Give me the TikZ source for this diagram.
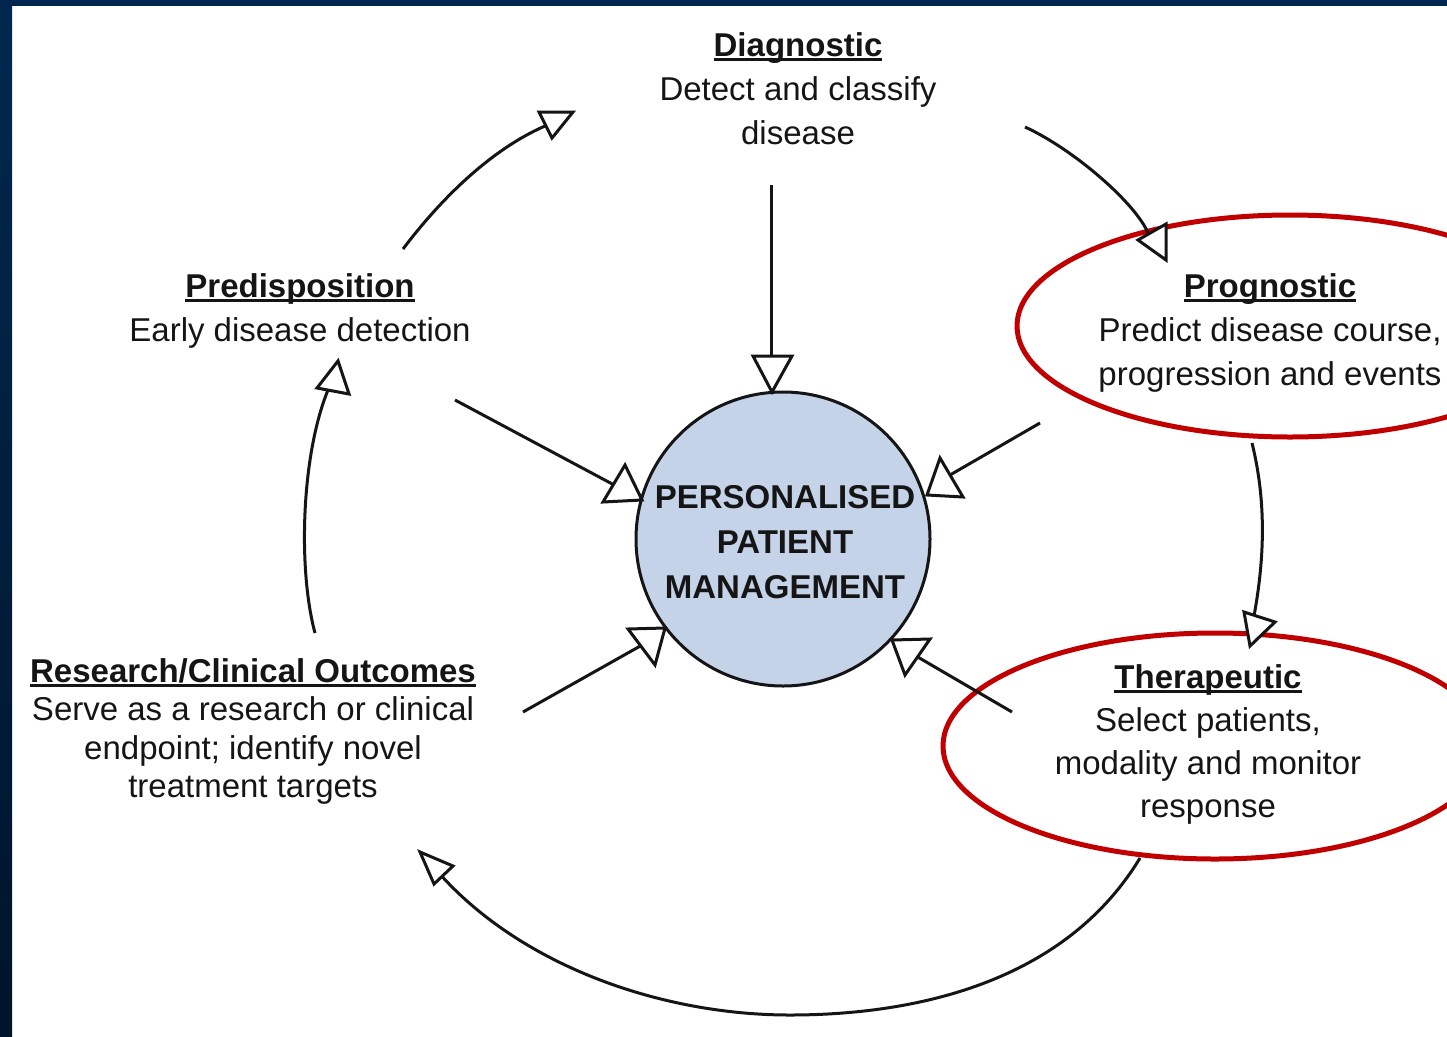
\documentclass[tikz,border=0pt]{standalone}
\usepackage{fontspec}
\setmainfont{Liberation Sans}
\definecolor{navytop}{HTML}{00264F}
\definecolor{barA}{HTML}{00284F}
\definecolor{barB}{HTML}{00488F}
\definecolor{barC}{HTML}{00142B}
\definecolor{ppmfill}{HTML}{C5D3E9}
\definecolor{ringred}{HTML}{C00000}
\definecolor{ink}{HTML}{151515}
\newcommand\hdul[1]{\setbox0\hbox{#1}\rlap{\rule[-4.5pt]{\wd0}{2.2pt}}\box0}
\begin{document}
\begin{tikzpicture}[x=1pt,y=-1pt,
  txt/.style={inner sep=0pt, anchor=base, text=ink},
  conn/.style={line width=3pt, draw=ink},
  headtri/.style={line width=3pt, draw=ink, fill=white, line join=miter},
  ring/.style={line width=5pt, draw=ringred}]
\useasboundingbox (0,0) rectangle (1447,1036);
\clip (0,0) rectangle (1447,1036);
% background
\fill[white] (0,0) rectangle (1447,1036);
\shade[top color=barA, middle color=barB, bottom color=barC] (0,0) rectangle (12,1036);
\fill[navytop] (0,0) rectangle (1447,6);

% central circle
\node[circle, draw=ink, line width=3pt, fill=ppmfill, minimum size=294pt, inner sep=0pt] (ppm) at (783,539) {};
\node[txt, font=\fontsize{33}{45}\selectfont\bfseries] (ppmtxt) at (785,508)
  {\begin{tabular}[t]{@{}c@{}}PERSONALISED\\PATIENT\\MANAGEMENT\end{tabular}};

% text blocks
\node[txt, font=\fontsize{33}{44}\selectfont] (diag) at (798,56)
  {\begin{tabular}[t]{@{}c@{}}\hdul{\textbf{Diagnostic}}\\Detect and classify\\disease\end{tabular}};
\node[txt, font=\fontsize{33}{44}\selectfont] (pred) at (300,297)
  {\begin{tabular}[t]{@{}c@{}}\hdul{\textbf{Predisposition}}\\Early disease detection\end{tabular}};
\node[txt, font=\fontsize{33}{44}\selectfont] (prog) at (1270,297)
  {\begin{tabular}[t]{@{}c@{}}\hdul{\textbf{Prognostic}}\\Predict disease course,\\progression and events\end{tabular}};
\node[txt, font=\fontsize{33}{43}\selectfont] (ther) at (1208,688)
  {\begin{tabular}[t]{@{}c@{}}\hdul{\textbf{Therapeutic}}\\Select patients,\\modality and monitor\\response\end{tabular}};
\node[txt, font=\fontsize{33}{38.5}\selectfont] (resc) at (253,682)
  {\begin{tabular}[t]{@{}c@{}}\hdul{\textbf{Research/Clinical Outcomes}}\\Serve as a research or clinical\\endpoint; identify novel\\treatment targets\end{tabular}};

% red rings
\draw[ring] (1290,326) ellipse [x radius=273, y radius=111];
\draw[ring] (1215,746) ellipse [x radius=272, y radius=113];

% connector end points
\coordinate (dS) at (771,185);  \coordinate (dE) at (771,360);
\coordinate (pS) at (455,400);  \coordinate (pE) at (616,486);
\coordinate (gS) at (1040,423); \coordinate (gE) at (950,475);
\coordinate (rS) at (523,712);  \coordinate (rE) at (642,645);
\coordinate (tS) at (1012,712); \coordinate (tE) at (916,656);
\coordinate (aS) at (403,249);  \coordinate (aE) at (545,126);
\coordinate (bS) at (1025,127); \coordinate (bE) at (1148,233);
\coordinate (cS) at (1252,443); \coordinate (cE) at (1254,616);
\coordinate (eS) at (315,633);  \coordinate (eE) at (328,390);
\coordinate (fS) at (1140,858); \coordinate (fM) at (790,1015); \coordinate (fE) at (438,872);

% spokes
\draw[conn] (dS) -- (dE);
\draw[conn] (pS) -- (pE);
\draw[conn] (gS) -- (gE);
\draw[conn] (rS) -- (rE);
\draw[conn] (tS) -- (tE);
% cycle
\draw[conn] (aS) .. controls (440,200) and (490,150) .. (aE);
\draw[conn] (bS) .. controls (1075,150) and (1136,204) .. (bE);
\draw[conn] (cS) .. controls (1266,500) and (1265,556) .. (cE);
\draw[conn] (eS) .. controls (298,570) and (301,456) .. (eE);
\draw[conn] (fS) .. controls (1060,990) and (900,1015) .. (fM)
               .. controls (660,1015) and (520,965) .. (fE);

% arrow heads
\draw[headtri] (753,356) -- (792,356) -- (772,392) -- cycle;
\draw[headtri] (603,502) -- (625,465) -- (642,500) -- cycle;
\draw[headtri] (927,495) -- (963,497) -- (940,458) -- cycle;
\draw[headtri] (628,629) -- (665,628) -- (655,665) -- cycle;
\draw[headtri] (892,640) -- (930,639) -- (905,675) -- cycle;
\draw[headtri] (539,112) -- (573,112) -- (552,138) -- cycle;
\draw[headtri] (1138,240) -- (1166,224) -- (1166,260) -- cycle;
\draw[headtri] (1244,612) -- (1275,622) -- (1250,646) -- cycle;
\draw[headtri] (338,361) -- (317,388) -- (349,394) -- cycle;
\draw[headtri] (420,852) -- (453,866) -- (434,884) -- cycle;
\end{tikzpicture}
\end{document}
